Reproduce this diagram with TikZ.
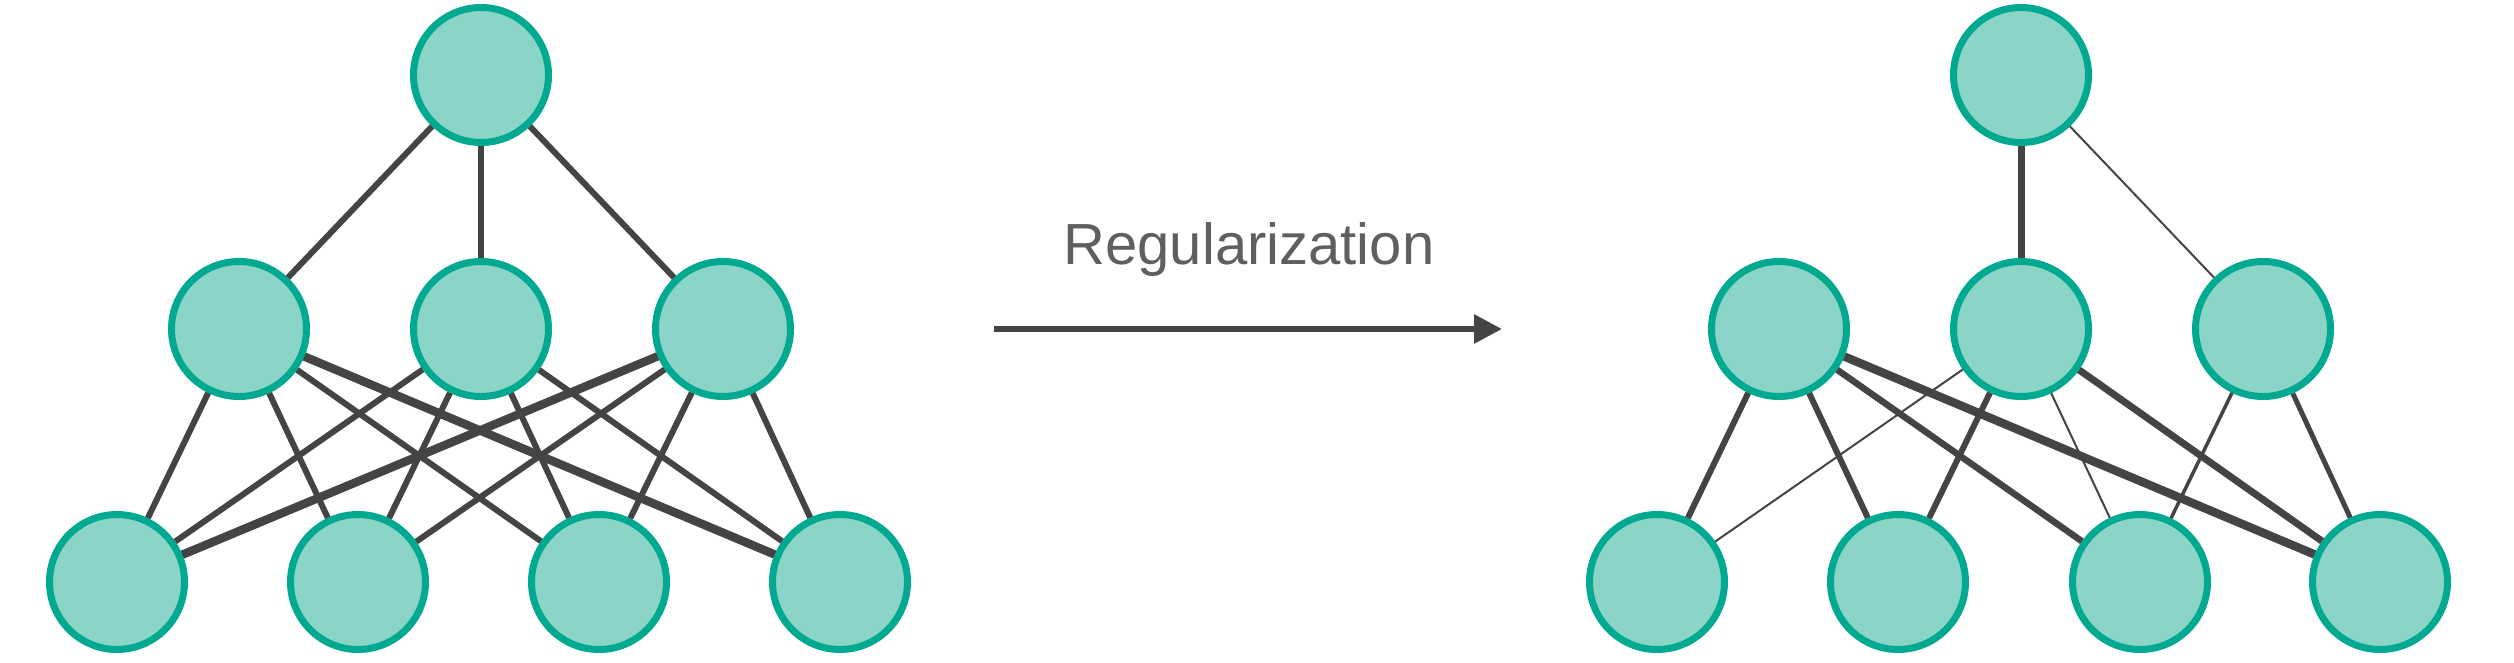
\documentclass[tikz,border=0pt]{standalone}
\usepackage{fontspec}
\setmainfont{Liberation Sans}
\usetikzlibrary{arrows.meta}
\definecolor{nfill}{HTML}{8AD5C8}
\definecolor{nline}{HTML}{00A98F}
\definecolor{eline}{HTML}{444444}
\definecolor{tcol}{HTML}{5F5F5F}
\begin{document}
\begin{tikzpicture}[x=1pt,y=-1pt,
  neuron/.style={circle,draw=nline,fill=nfill,line width=7pt,minimum size=135pt,inner sep=0pt},
  conn/.style={draw=eline,line width=6pt},
  thickc/.style={draw=eline,line width=8.5pt},
  thinc/.style={draw=eline,line width=2pt},
  midc/.style={draw=eline,line width=3.5pt}]
\useasboundingbox (0,0) rectangle (2514,662);
% left network
\node[neuron] (lt) at (481,75) {};
\node[neuron] (lm1) at (239,329) {};
\node[neuron] (lm2) at (481,329) {};
\node[neuron] (lm3) at (723,329) {};
\node[neuron] (lb1) at (117,582) {};
\node[neuron] (lb2) at (358,582) {};
\node[neuron] (lb3) at (599,582) {};
\node[neuron] (lb4) at (840,582) {};
% right network
\node[neuron] (rt) at (2021,75) {};
\node[neuron] (rm1) at (1779,329) {};
\node[neuron] (rm2) at (2021,329) {};
\node[neuron] (rm3) at (2263,329) {};
\node[neuron] (rb1) at (1657,582) {};
\node[neuron] (rb2) at (1898,582) {};
\node[neuron] (rb3) at (2140,582) {};
\node[neuron] (rb4) at (2380,582) {};
% left edges
\draw[conn] (lt) -- (lm1);
\draw[conn] (lt) -- (lm2);
\draw[conn] (lt) -- (lm3);
\foreach \m in {1,2,3}{\foreach \b in {1,2,3,4}{\draw[conn] (lm\m) -- (lb\b);}}
\draw[thickc] (lm1) -- (lb4);
\draw[thickc] (lm3) -- (lb1);
% right edges
\draw[conn,line width=7pt] (rt) -- (rm2);
\draw[thinc] (rt) -- (rm3);
\draw[conn] (rm1) -- (rb1);
\draw[conn] (rm1) -- (rb2);
\draw[conn,line width=6.5pt] (rm1) -- (rb3);
\draw[thickc] (rm1) -- (rb4);
\draw[thinc] (rm2) -- (rb1);
\draw[conn] (rm2) -- (rb2);
\draw[thinc] (rm2) -- (rb3);
\draw[conn,line width=7pt] (rm2) -- (rb4);
\draw[midc] (rm3) -- (rb3);
\draw[conn,line width=5pt] (rm3) -- (rb4);
% arrow
\coordinate (a0) at (994,329);
\coordinate (a1) at (1502,329);
\draw[eline,line width=6pt,-{Triangle[length=28pt,width=28pt]}] (a0) -- (a1);
\node[anchor=base,text=tcol,font=\fontsize{58}{60}\selectfont,inner sep=0pt] (lab) at (1249,264) {Regularization};
\end{tikzpicture}
\end{document}
